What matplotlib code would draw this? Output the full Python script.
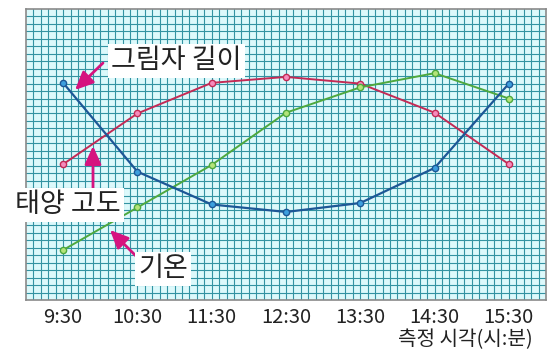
import numpy as np
import matplotlib
matplotlib.use('Agg')
import matplotlib.pyplot as plt

plt.rcParams['font.family'] = ['Noto Sans CJK KR', 'DejaVu Sans']

times = ['9:30', '10:30', '11:30', '12:30', '13:30', '14:30', '15:30']
shadow = [29.1, 17.2, 12.8, 11.8, 13.0, 17.7, 29.0]      # 그림자 길이
sun_alt = [18.2, 25.0, 29.1, 29.9, 29.0, 25.1, 18.2]     # 태양 고도
temp = [6.7, 12.4, 18.1, 25.1, 28.5, 30.4, 27.0]         # 기온

x = np.arange(len(times)) * 10 + 5   # one hour = 10 grid cells

grid_c = '#3393a2'
arrow_c = '#d6137f'

fig = plt.figure(figsize=(5.6, 3.57), dpi=100)
ax = fig.add_axes([26 / 560, 57 / 357, 520 / 560, 291 / 357])
ax.set_facecolor('#dcf9fb')
ax.set_xlim(0, 70)
ax.set_ylim(0, 39)
for v in range(1, 70):
    ax.axvline(v, color=grid_c, lw=0.8, zorder=1)
for v in range(1, 39):
    ax.axhline(v, color=grid_c, lw=0.8, zorder=1)
for s in ax.spines.values():
    s.set_color('#8a8a8a')
    s.set_linewidth(1.2)

ax.plot(x, sun_alt, color='#c32a55', lw=1.4, marker='o', ms=4.5,
        mfc='#f58cbc', mec='#c32a55', mew=1.0, zorder=3)
ax.plot(x, temp, color='#4ea83e', lw=1.4, marker='o', ms=4.5,
        mfc='#b4e47a', mec='#4ea83e', mew=1.0, zorder=3)
ax.plot(x, shadow, color='#1d5796', lw=1.6, marker='o', ms=4.5,
        mfc='#3d9fde', mec='#1d5796', mew=1.0, zorder=4)

ax.set_xticks(x)
ax.set_xticklabels(times, fontsize=14.5, color='#222222')
ax.set_yticks([])
ax.tick_params(axis='x', length=0, pad=5)

box = dict(boxstyle='square,pad=0.12', fc='white', ec='none')
lab_kw = dict(fontsize=19.5, color='#222222', ha='center', va='center',
              transform=fig.transFigure, bbox=box, zorder=6)
fig.text(176 / 560, 1 - 61 / 357, '그림자 길이', **lab_kw)
fig.text(68 / 560, 1 - 205 / 357, '태양 고도', **lab_kw)
fig.text(163 / 560, 1 - 269 / 357, '기온', **lab_kw)
fig.text(465 / 560, 1 - 340 / 357, '측정 시각(시:분)', fontsize=14.5,
         color='#222222', ha='center', va='center')

def arrow(x0, y0, x1, y1):
    ax.annotate('', xy=(x1 / 560, 1 - y1 / 357), xytext=(x0 / 560, 1 - y0 / 357),
                xycoords='figure fraction', textcoords='figure fraction',
                arrowprops=dict(arrowstyle='-|>,head_length=1.1,head_width=0.5',
                                color=arrow_c, lw=2.0, shrinkA=0, shrinkB=0),
                zorder=7, annotation_clip=False)

arrow(103, 63, 75, 90)
arrow(93, 190, 93, 146)
arrow(137, 257, 110, 230)

fig.savefig('out.png', dpi=100, facecolor='white')
